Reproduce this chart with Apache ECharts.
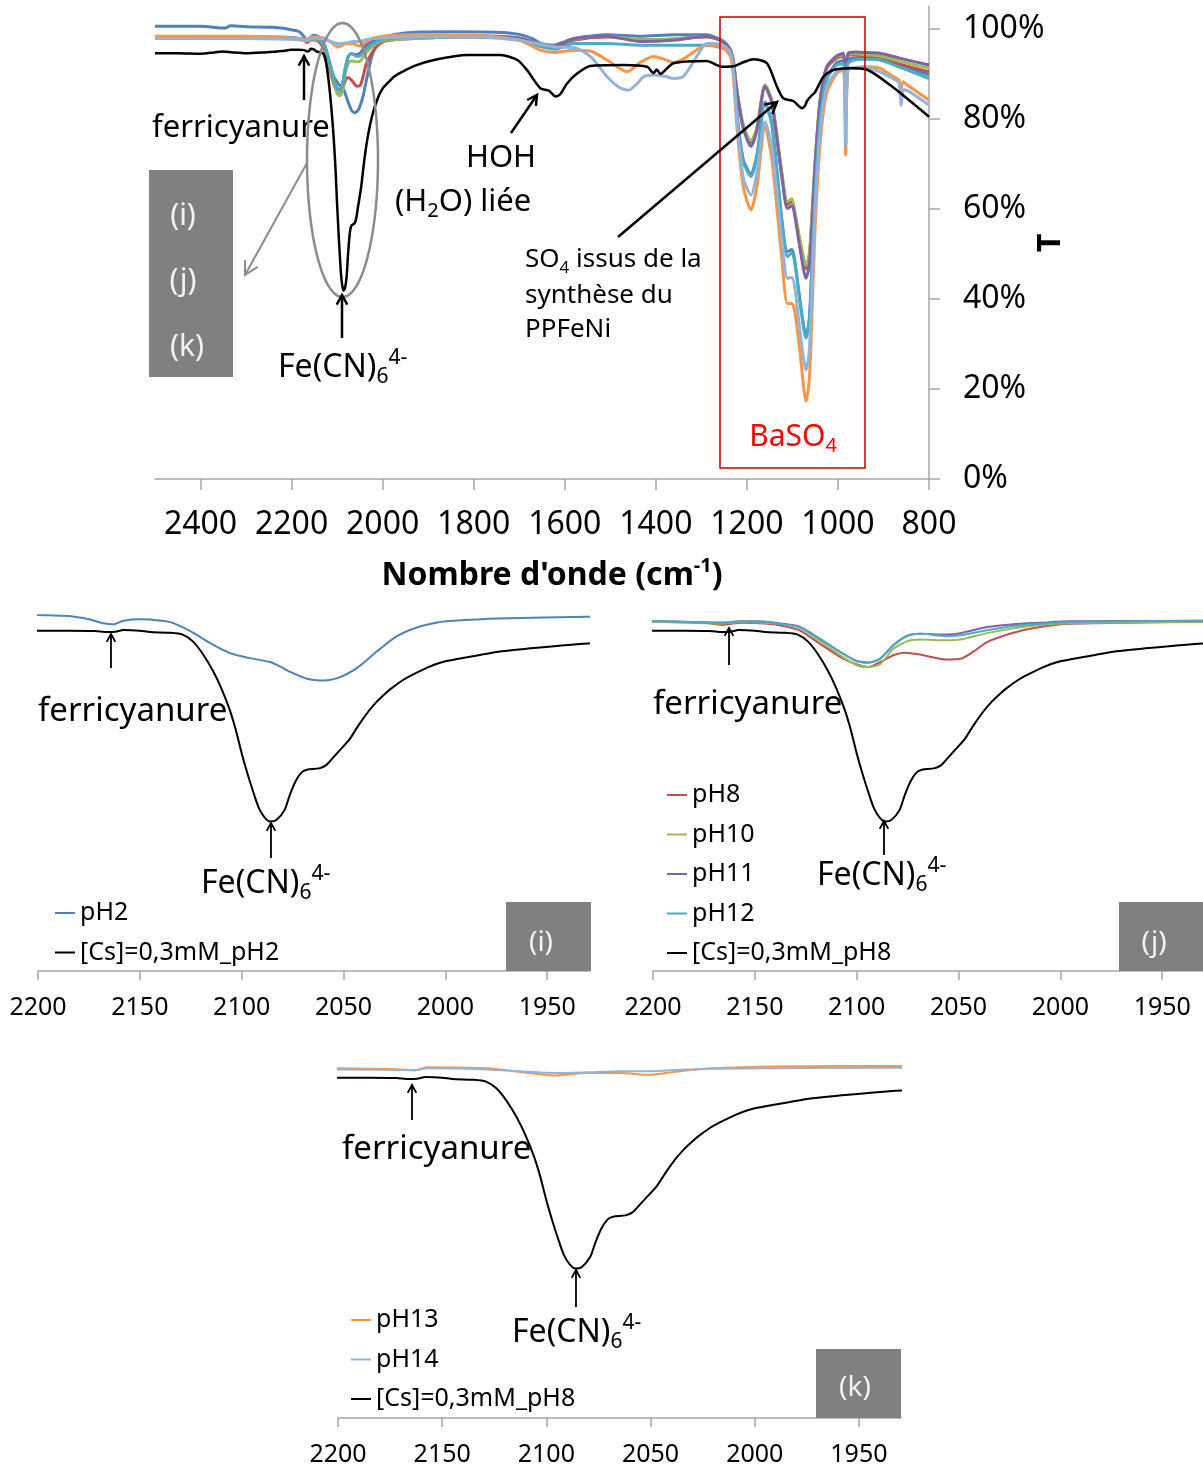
<!DOCTYPE html>
<html>
<head>
<meta charset="utf-8">
<script src="https://cdn.jsdelivr.net/npm/echarts@6/dist/echarts.min.js"></script>
<style>
  html, body { margin: 0; padding: 0; background: #fff; }
  #chart { width: 1203px; height: 1470px; }
</style>
</head>
<body>
<div id="chart"></div>
<script>
const FONT = '"Noto Sans", sans-serif';

// [nombre d'onde (cm-1), T (%)]
const cs = [
  [2500, 94.6], [2450, 94.6], [2400, 94.5], [2370, 94.8], [2350, 95.0], [2330, 94.8], [2300, 94.6], [2260, 94.8],
  [2220, 95.1], [2200, 95.4], [2185, 95.4], [2172, 95.3], [2166, 95.0], [2162, 95.1], [2158, 95.6], [2150, 95.4],
  [2145, 95.0], [2135, 94.8], [2129, 94.3], [2124, 92.4], [2119, 88.8], [2114, 84.0], [2110, 79.2], [2106, 73.4],
  [2103, 67.8], [2100, 61.0], [2097, 55.0], [2094, 49.6], [2091.5, 45.6], [2088.7, 43.0], [2086, 41.9], [2083, 42.3],
  [2079, 45.1], [2076.4, 49.3], [2073.6, 53.1], [2070.7, 55.6], [2068, 56.4], [2062, 56.8], [2058.5, 57.7], [2054.7, 60.1],
  [2051, 62.4], [2047, 65.0], [2042.5, 69.0], [2038, 72.6], [2034, 75.3], [2030, 77.5], [2027, 79.0], [2021, 81.5],
  [2017, 82.8], [2011, 84.5], [2007, 85.5], [2000, 86.8], [1990, 87.9], [1983, 88.6], [1974, 89.5], [1955, 90.6],
  [1930, 91.8], [1887, 93.1], [1814, 94.2], [1741, 94.2], [1704, 93.1], [1680, 90.5], [1668, 88.7], [1653, 86.8],
  [1635, 86.3], [1620, 85.0], [1610, 85.5], [1595, 87.9], [1573, 90.1], [1544, 91.8], [1471, 92.0], [1419, 91.6],
  [1405, 90.2], [1398, 91.0], [1390, 90.0], [1383, 90.5], [1361, 92.4], [1288, 92.9], [1255, 91.6], [1230, 91.7],
  [1208, 92.6], [1186, 93.3], [1156, 92.4], [1134, 87.2], [1120, 84.6], [1098, 84.0], [1079, 82.4], [1072, 83.0],
  [1068, 84.0], [1060, 85.0], [1050, 86.0], [1032, 89.4], [1010, 90.9], [973, 91.3], [937, 91.0], [886, 87.6],
  [800, 80.5]
];

const pH2 = [
  [2500, 100.6], [2400, 100.6], [2345, 100.2], [2335, 100.7], [2300, 100.5], [2240, 100.4], [2215, 100.1], [2200, 99.8],
  [2185, 99.5], [2175, 98.6], [2168, 97.5], [2163, 97.2], [2158, 98.2], [2150, 98.6], [2145, 98.5], [2135, 97.8],
  [2125, 95.2], [2115.5, 91.9], [2105.7, 89.1], [2096, 87.7], [2086, 86.6], [2081, 85.3], [2076, 83.8], [2068, 81.9],
  [2061.5, 81.4], [2053, 82.1], [2043.5, 84.9], [2033.6, 89.6], [2024, 93.8], [2014, 96.3], [2004, 97.7], [1997.6, 98.1],
  [1974, 98.8], [1930, 99.3], [1850, 99.4], [1750, 99.3], [1700, 98.8], [1670, 97.8], [1653, 96.8], [1625, 96.4],
  [1600, 97.2], [1581, 97.9], [1507, 98.7], [1434, 98.4], [1361, 98.7], [1288, 98.7], [1255, 97.2], [1237, 95.0],
  [1230, 91.5], [1222, 81.5], [1208, 71.0], [1191, 67.8], [1178, 72.0], [1160, 83.8], [1145, 79.0], [1123, 57.5],
  [1111, 50.5], [1101, 51.0], [1094, 48.0], [1083, 39.5], [1070, 31.8], [1063, 35.5], [1058, 45.5], [1050, 64.0],
  [1039, 80.5], [1025, 89.0], [1003, 92.5], [988, 93.0], [983, 79.0], [978, 93.0], [960, 93.6], [944, 93.6],
  [908, 93.3], [864, 92.0], [800, 89.8]
];

const pH8 = [
  [2500, 98.2], [2300, 98.2], [2200, 97.9], [2175, 97.6], [2166, 97.0], [2162, 97.3], [2157, 97.6], [2145, 97.4],
  [2137.6, 96.9], [2128, 95.5], [2118, 91.7], [2108, 88.0], [2100, 85.9], [2094.3, 85.2], [2088.5, 86.6], [2082, 88.5],
  [2076.5, 89.2], [2069, 88.7], [2056, 87.3], [2049, 87.5], [2042.5, 89.6], [2036, 92.2], [2023, 94.8], [2010, 96.4],
  [1995, 97.3], [1930, 97.9], [1800, 98.2], [1700, 97.8], [1653, 96.5], [1620, 96.0], [1581, 97.5], [1507, 98.2],
  [1434, 97.6], [1361, 97.8], [1288, 98.2], [1255, 97.4], [1237, 95.5], [1230, 93.0], [1222, 86.5], [1208, 78.5],
  [1191, 74.8], [1178, 78.0], [1160, 87.4], [1145, 83.8], [1123, 67.5], [1111, 61.0], [1101, 61.8], [1094, 58.5],
  [1083, 52.5], [1070, 46.8], [1063, 49.5], [1058, 56.5], [1050, 70.5], [1039, 84.0], [1025, 91.2], [1003, 93.5],
  [988, 94.0], [983, 84.0], [978, 94.0], [960, 94.2], [944, 94.0], [908, 93.6], [864, 92.2], [800, 90.5]
];

const pH10 = [
  [2500, 98.3], [2300, 98.3], [2200, 97.9], [2166, 97.4], [2157, 97.8], [2145, 97.6], [2137.6, 97.3], [2128, 96.2],
  [2118, 92.5], [2108, 88.5], [2100, 85.7], [2094.3, 85.2], [2088.5, 86.0], [2082, 90.3], [2075.4, 92.4], [2069, 92.9],
  [2056, 92.7], [2049, 92.9], [2036, 94.7], [2023, 96.1], [2010, 97.0], [1995, 97.5], [1930, 97.9], [1800, 98.4],
  [1700, 98.0], [1653, 96.6], [1620, 96.2], [1581, 97.7], [1507, 98.4], [1434, 97.6], [1361, 97.8], [1288, 98.4],
  [1255, 97.6], [1237, 95.5], [1230, 93.0], [1222, 86.5], [1208, 78.5], [1191, 75.2], [1178, 78.0], [1160, 87.6],
  [1145, 84.0], [1123, 68.0], [1111, 61.6], [1101, 62.3], [1094, 59.0], [1083, 53.0], [1070, 47.4], [1063, 50.0],
  [1058, 57.0], [1050, 71.0], [1039, 84.5], [1025, 91.5], [1003, 93.8], [988, 94.3], [983, 84.5], [978, 94.3],
  [960, 94.5], [944, 94.3], [908, 94.0], [864, 92.8], [800, 91.3]
];

const pH11 = [
  [2500, 98.3], [2300, 98.3], [2200, 98.1], [2166, 97.7], [2157, 98.0], [2145, 97.9], [2137.6, 97.4], [2128, 96.5],
  [2118, 93.1], [2108, 89.4], [2100, 86.9], [2094.3, 86.5], [2088.5, 87.6], [2082, 91.3], [2075.4, 93.9], [2069, 94.5],
  [2056, 94.3], [2049, 94.7], [2036, 96.4], [2023, 97.2], [2010, 97.6], [1995, 98.0], [1930, 98.2], [1800, 98.5],
  [1700, 98.0], [1653, 96.6], [1620, 96.3], [1581, 97.8], [1507, 98.4], [1434, 97.2], [1361, 97.5], [1288, 98.4],
  [1255, 97.4], [1237, 95.5], [1230, 93.0], [1222, 86.0], [1208, 78.0], [1191, 73.9], [1178, 77.5], [1160, 87.2],
  [1145, 83.5], [1123, 67.0], [1111, 60.1], [1101, 60.8], [1094, 58.0], [1083, 51.0], [1070, 44.6], [1063, 47.5],
  [1058, 55.0], [1050, 70.0], [1039, 84.0], [1025, 91.5], [1003, 94.0], [988, 94.6], [983, 84.0], [978, 94.6],
  [960, 94.9], [944, 94.8], [908, 94.6], [864, 93.5], [800, 92.0]
];

const pH12 = [
  [2500, 98.2], [2300, 98.2], [2200, 98.1], [2166, 97.6], [2157, 98.0], [2145, 97.9], [2137.6, 97.3], [2128, 96.4],
  [2118, 93.1], [2108, 89.4], [2100, 86.8], [2094.3, 86.4], [2088.5, 87.5], [2082, 91.3], [2075.4, 93.9], [2069, 94.5],
  [2056, 93.9], [2049, 94.1], [2036, 95.5], [2023, 96.7], [2010, 97.3], [1995, 97.8], [1930, 98.2], [1800, 98.3],
  [1700, 97.6], [1653, 96.1], [1620, 95.5], [1581, 96.8], [1507, 96.8], [1434, 96.4], [1361, 96.4], [1288, 96.4],
  [1255, 95.8], [1237, 94.5], [1230, 91.0], [1222, 81.0], [1208, 70.5], [1191, 67.2], [1178, 71.5], [1160, 83.5],
  [1145, 78.5], [1123, 57.0], [1111, 49.4], [1101, 50.3], [1094, 47.5], [1083, 39.0], [1070, 31.3], [1063, 35.0],
  [1058, 45.0], [1050, 63.5], [1039, 80.0], [1025, 88.7], [1003, 92.0], [988, 92.3], [983, 79.0], [978, 92.3],
  [960, 93.2], [944, 93.3], [908, 93.1], [864, 91.5], [800, 89.0]
];

const pH13 = [
  [2500, 98.4], [2300, 98.4], [2200, 98.0], [2175, 97.8], [2163, 97.5], [2157, 98.3], [2128.6, 98.0], [2112.7, 97.0],
  [2096.7, 96.0], [2080.7, 96.7], [2064.7, 96.7], [2050.3, 96.2], [2036, 97.2], [2020, 98.0], [1990, 98.5], [1930, 98.7],
  [1800, 98.6], [1700, 97.5], [1653, 95.3], [1620, 94.8], [1581, 95.3], [1544, 95.1], [1507, 93.1], [1463, 90.5],
  [1434, 92.6], [1405, 93.9], [1380, 93.2], [1361, 92.6], [1340, 93.3], [1288, 96.4], [1255, 96.0], [1237, 94.0],
  [1230, 90.0], [1222, 78.3], [1208, 65.0], [1191, 59.8], [1178, 65.0], [1160, 78.3], [1145, 70.9], [1123, 48.7],
  [1111, 39.0], [1101, 39.0], [1094, 36.8], [1083, 27.9], [1070, 17.2], [1063, 22.0], [1058, 33.8], [1050, 56.1],
  [1039, 74.6], [1025, 85.7], [1003, 90.1], [988, 90.9], [983, 72.0], [978, 90.9], [960, 91.5], [944, 91.6],
  [908, 91.3], [880, 89.5], [866, 88.7], [862, 86.4], [857, 88.3], [847, 87.5], [800, 84.2]
];

const pH14 = [
  [2500, 97.9], [2300, 97.9], [2200, 97.7], [2163, 97.5], [2157, 98.0], [2129, 97.7], [2112.7, 97.2], [2096.7, 96.7],
  [2080.7, 96.9], [2064.7, 97.2], [2050, 97.2], [2036, 97.6], [2020, 97.9], [1930, 98.2], [1800, 98.3], [1700, 97.5],
  [1653, 96.6], [1620, 96.0], [1581, 95.9], [1544, 93.9], [1507, 89.4], [1480, 87.0], [1460, 86.4], [1440, 88.0],
  [1427, 89.4], [1405, 89.8], [1380, 89.5], [1361, 89.0], [1340, 89.4], [1310, 93.9], [1288, 96.8], [1255, 96.5],
  [1237, 95.0], [1230, 91.5], [1222, 80.0], [1208, 67.0], [1191, 63.1], [1178, 68.0], [1160, 79.4], [1145, 73.5],
  [1123, 53.0], [1111, 44.6], [1101, 44.8], [1094, 42.0], [1083, 32.5], [1070, 24.2], [1063, 28.5], [1058, 39.5],
  [1050, 60.0], [1039, 77.0], [1025, 87.0], [1003, 90.5], [988, 91.0], [983, 73.9], [978, 91.0], [960, 91.4],
  [944, 91.5], [908, 90.5], [880, 89.0], [866, 88.0], [861, 83.1], [856, 86.5], [847, 86.3], [800, 83.1]
];

const topXTicks = [800, 1000, 1200, 1400, 1600, 1800, 2000, 2200, 2400];
const topYTicks = [0, 20, 40, 60, 80, 100];
const zoomXTicks = [1950, 2000, 2050, 2100, 2150, 2200];

const colors = {
  pH2: '#4F81BD', pH8: '#C0504D', pH10: '#9BBB59', pH11: '#8064A2',
  pH12: '#4BACC6', pH13: '#F79646', pH14: '#95B3D7', cs: '#000000'
};

const AXIS_GREY = '#A6A6A6';

function line(name, data, color, idx, width) {
  return {
    name: name, type: 'line', xAxisIndex: idx, yAxisIndex: idx,
    data: data, symbol: 'none', showSymbol: false, smooth: 0.25,
    lineStyle: { color: color, width: width },
    itemStyle: { color: color },
    silent: true
  };
}

function zoomX(idx, min) {
  return {
    gridIndex: idx, type: 'value', min: min, max: 2200, inverse: true,
    axisLine: { show: true, onZero: false, lineStyle: { color: AXIS_GREY, width: 1.5 } },
    axisTick: { show: true, length: 9, customValues: zoomXTicks, lineStyle: { color: AXIS_GREY, width: 1.5 } },
    axisLabel: {
      customValues: zoomXTicks, margin: 24, fontSize: 25, fontFamily: FONT, color: '#000',
      formatter: v => String(v)
    },
    splitLine: { show: false }
  };
}

function zoomY(idx) {
  return { gridIndex: idx, type: 'value', min: 0, max: 105, show: false, splitLine: { show: false } };
}

// ---- annotations ----
function txt(x, y, text, size, extra) {
  return {
    type: 'text', x: x, y: y, z: 100, silent: true,
    style: Object.assign({
      text: text, fontSize: size, fontFamily: FONT, fill: '#000',
      align: 'left', verticalAlign: 'middle'
    }, extra || {})
  };
}

function subRich(size, color) {
  return {
    n: { fontSize: size, fontFamily: FONT, lineHeight: Math.round(size * 1.25), fill: color },
    sub: { fontSize: Math.round(size * 0.65), fontFamily: FONT, lineHeight: Math.round(size * 0.62), verticalAlign: 'bottom', fill: color },
    sup: { fontSize: Math.round(size * 0.65), fontFamily: FONT, lineHeight: Math.round(size * 0.62), verticalAlign: 'top', fill: color }
  };
}

function ferro(x, y, size) {
  return txt(x, y, '{n|Fe(CN)}{sub|6}{sup|4-}', size, { rich: subRich(size, '#000') });
}

function arrow(x1, y1, x2, y2, color, w, head) {
  const a = Math.atan2(y2 - y1, x2 - x1);
  const pts = [
    [x2 - head * Math.cos(a - 0.5), y2 - head * Math.sin(a - 0.5)],
    [x2, y2],
    [x2 - head * Math.cos(a + 0.5), y2 - head * Math.sin(a + 0.5)]
  ];
  return [
    { type: 'line', z: 100, silent: true, shape: { x1: x1, y1: y1, x2: x2, y2: y2 }, style: { stroke: color, lineWidth: w } },
    { type: 'polyline', z: 100, silent: true, shape: { points: pts }, style: { stroke: color, lineWidth: w, fill: null } }
  ];
}

function ellipse(cx, cy, rx, ry, color, w) {
  const pts = [];
  for (let i = 0; i < 120; i++) {
    const t = i / 120 * Math.PI * 2;
    pts.push([cx + rx * Math.cos(t), cy + ry * Math.sin(t)]);
  }
  return { type: 'polygon', z: 100, silent: true, shape: { points: pts }, style: { stroke: color, lineWidth: w, fill: null } };
}

function greyBox(x, y, w, h) {
  return { type: 'rect', z: 90, silent: true, shape: { x: x, y: y, width: w, height: h }, style: { fill: '#808080' } };
}

function whiteLabel(x, y, t, size) {
  return txt(x, y, t, size, { fill: '#F2F2F2', align: 'center' });
}

const elements = [].concat(
  // spectre complet
  [txt(152, 128, 'ferricyanure', 31)],
  arrow(304, 100, 304, 56, '#000', 2.5, 11),
  [ellipse(342.5, 160, 35.5, 137, '#8C8C8C', 2.5)],
  arrow(307, 163, 245, 275, '#8C8C8C', 2, 15),
  [greyBox(149, 170, 84, 207),
   whiteLabel(183, 216, '(i)', 30), whiteLabel(183, 281, '(j)', 30), whiteLabel(187, 347, '(k)', 30)],
  [txt(501, 158, 'HOH', 31, { align: 'center' }),
   txt(395, 202, '{n|(H}{sub|2}{n|O) liée}', 31, { rich: subRich(31, '#000') })],
  arrow(511, 133, 537, 95, '#000', 2.5, 11),
  arrow(342, 338, 342, 295, '#000', 2.5, 11),
  [ferro(278, 368, 32)],
  [txt(525, 260, '{n|SO}{sub|4}{n| issus de la}', 26, { rich: subRich(26, '#000') }),
   txt(525, 296, 'synthèse du', 26),
   txt(525, 330, 'PPFeNi', 26)],
  arrow(618, 237, 777, 102, '#000', 2.5, 13),
  [{ type: 'rect', z: 95, silent: true, shape: { x: 720, y: 17, width: 145, height: 451 },
     style: { stroke: '#C00000', lineWidth: 1.5, fill: null } },
   txt(793, 437, '{n|BaSO}{sub|4}', 30, { align: 'center', rich: subRich(30, '#FF0000') })],
  // (i)
  [txt(38, 712, 'ferricyanure', 33)],
  arrow(111, 668, 111, 634, '#000', 1.8, 9),
  [ferro(201, 884, 32)],
  arrow(271, 858, 271, 823, '#000', 1.8, 9),
  [greyBox(506, 902, 85, 69), whiteLabel(541, 943, '(i)', 28)],
  // (j)
  [txt(653, 705, 'ferricyanure', 33)],
  arrow(729, 665, 729, 628, '#000', 1.8, 9),
  [ferro(817, 876, 32)],
  arrow(884, 855, 884, 821, '#000', 1.8, 9),
  [greyBox(1119, 902, 84, 69), whiteLabel(1154, 943, '(j)', 28)],
  // (k)
  [txt(342, 1150, 'ferricyanure', 33)],
  arrow(412, 1120, 412, 1085, '#000', 1.8, 9),
  [ferro(512, 1333, 32)],
  arrow(576, 1307, 576, 1270, '#000', 1.8, 9),
  [greyBox(816, 1349, 85, 69), whiteLabel(855, 1388, '(k)', 28)]
);

const legendBase = {
  orient: 'vertical', icon: 'rect', itemWidth: 20, itemHeight: 2, itemGap: 9.5,
  padding: 0, selectedMode: false,
  textStyle: { fontSize: 25, lineHeight: 30, fontFamily: FONT, color: '#000' }
};

const chart = echarts.init(document.getElementById('chart'), null, { renderer: 'canvas' });

chart.setOption({
  animation: false,
  backgroundColor: '#fff',
  textStyle: { fontFamily: FONT },
  grid: [
    { left: 155, top: 6.5, width: 774, height: 472.5, outerBoundsMode: 'none' },
    { left: 38, top: 596.4, width: 551, height: 374.6, outerBoundsMode: 'none' },
    { left: 653, top: 596.4, width: 551, height: 374.6, outerBoundsMode: 'none' },
    { left: 338, top: 1043.4, width: 563, height: 374.6, outerBoundsMode: 'none' }
  ],
  xAxis: [
    {
      gridIndex: 0, type: 'value', min: 800, max: 2500, inverse: true,
      axisLine: { show: true, onZero: false, lineStyle: { color: AXIS_GREY, width: 1.5 } },
      axisTick: { show: true, length: 11, customValues: topXTicks, lineStyle: { color: AXIS_GREY, width: 1.5 } },
      axisLabel: {
        customValues: topXTicks, margin: 30, fontSize: 32, fontFamily: FONT, color: '#000',
        formatter: v => String(v)
      },
      splitLine: { show: false },
      name: 'Nombre d\'onde (cm{sup|-1})',
      nameLocation: 'middle', nameGap: 77, nameMoveOverlap: false,
      nameTextStyle: {
        fontSize: 32, fontWeight: 'bold', fontFamily: FONT, color: '#000', lineHeight: 40,
        padding: [0, 0, 0, 20],
        rich: { sup: { fontSize: 20, fontWeight: 'bold', fontFamily: FONT, color: '#000', lineHeight: 20, verticalAlign: 'top' } }
      }
    },
    zoomX(1, 1929.5),
    zoomX(2, 1929.5),
    zoomX(3, 1929.8)
  ],
  yAxis: [
    {
      gridIndex: 0, type: 'value', position: 'right', min: 0, max: 105,
      axisLine: { show: true, onZero: false, lineStyle: { color: AXIS_GREY, width: 1.5 } },
      axisTick: { show: true, length: 11, customValues: topYTicks, lineStyle: { color: AXIS_GREY, width: 1.5 } },
      axisLabel: { customValues: topYTicks, margin: 34, fontSize: 32, fontFamily: FONT, color: '#000', formatter: '{value}%' },
      splitLine: { show: false },
      name: 'T', nameLocation: 'middle', nameRotate: 90, nameGap: 106, nameMoveOverlap: false,
      nameTextStyle: { fontSize: 32, fontWeight: 'bold', fontFamily: FONT, color: '#000' }
    },
    zoomY(1), zoomY(2), zoomY(3)
  ],
  legend: [
    Object.assign({}, legendBase, { left: 55, top: 898, data: ['pH2', '[Cs]=0,3mM_pH2'] }),
    Object.assign({}, legendBase, { left: 667, top: 780, data: ['pH8', 'pH10', 'pH11', 'pH12', '[Cs]=0,3mM_pH8'] }),
    Object.assign({}, legendBase, { left: 351, top: 1305, data: ['pH13', 'pH14', '[Cs]=0,3mM_pH8'] })
  ],
  series: [
    // spectre complet
    line('pH2', pH2, colors.pH2, 0, 3),
    line('pH8', pH8, colors.pH8, 0, 3),
    line('pH10', pH10, colors.pH10, 0, 3),
    line('pH11', pH11, colors.pH11, 0, 3),
    line('pH12', pH12, colors.pH12, 0, 3),
    line('pH13', pH13, colors.pH13, 0, 3),
    line('pH14', pH14, colors.pH14, 0, 3),
    line('[Cs]=0,3mM_pH8', cs, colors.cs, 0, 2.5),
    // (i)
    line('pH2', pH2, colors.pH2, 1, 2),
    line('[Cs]=0,3mM_pH2', cs, colors.cs, 1, 2),
    // (j)
    line('pH8', pH8, colors.pH8, 2, 2),
    line('pH10', pH10, colors.pH10, 2, 2),
    line('pH11', pH11, colors.pH11, 2, 2),
    line('pH12', pH12, colors.pH12, 2, 2),
    line('[Cs]=0,3mM_pH8', cs, colors.cs, 2, 2),
    // (k)
    line('pH13', pH13, colors.pH13, 3, 2),
    line('pH14', pH14, colors.pH14, 3, 2),
    line('[Cs]=0,3mM_pH8', cs, colors.cs, 3, 2)
  ],
  graphic: { elements: elements }
});
</script>
</body>
</html>
